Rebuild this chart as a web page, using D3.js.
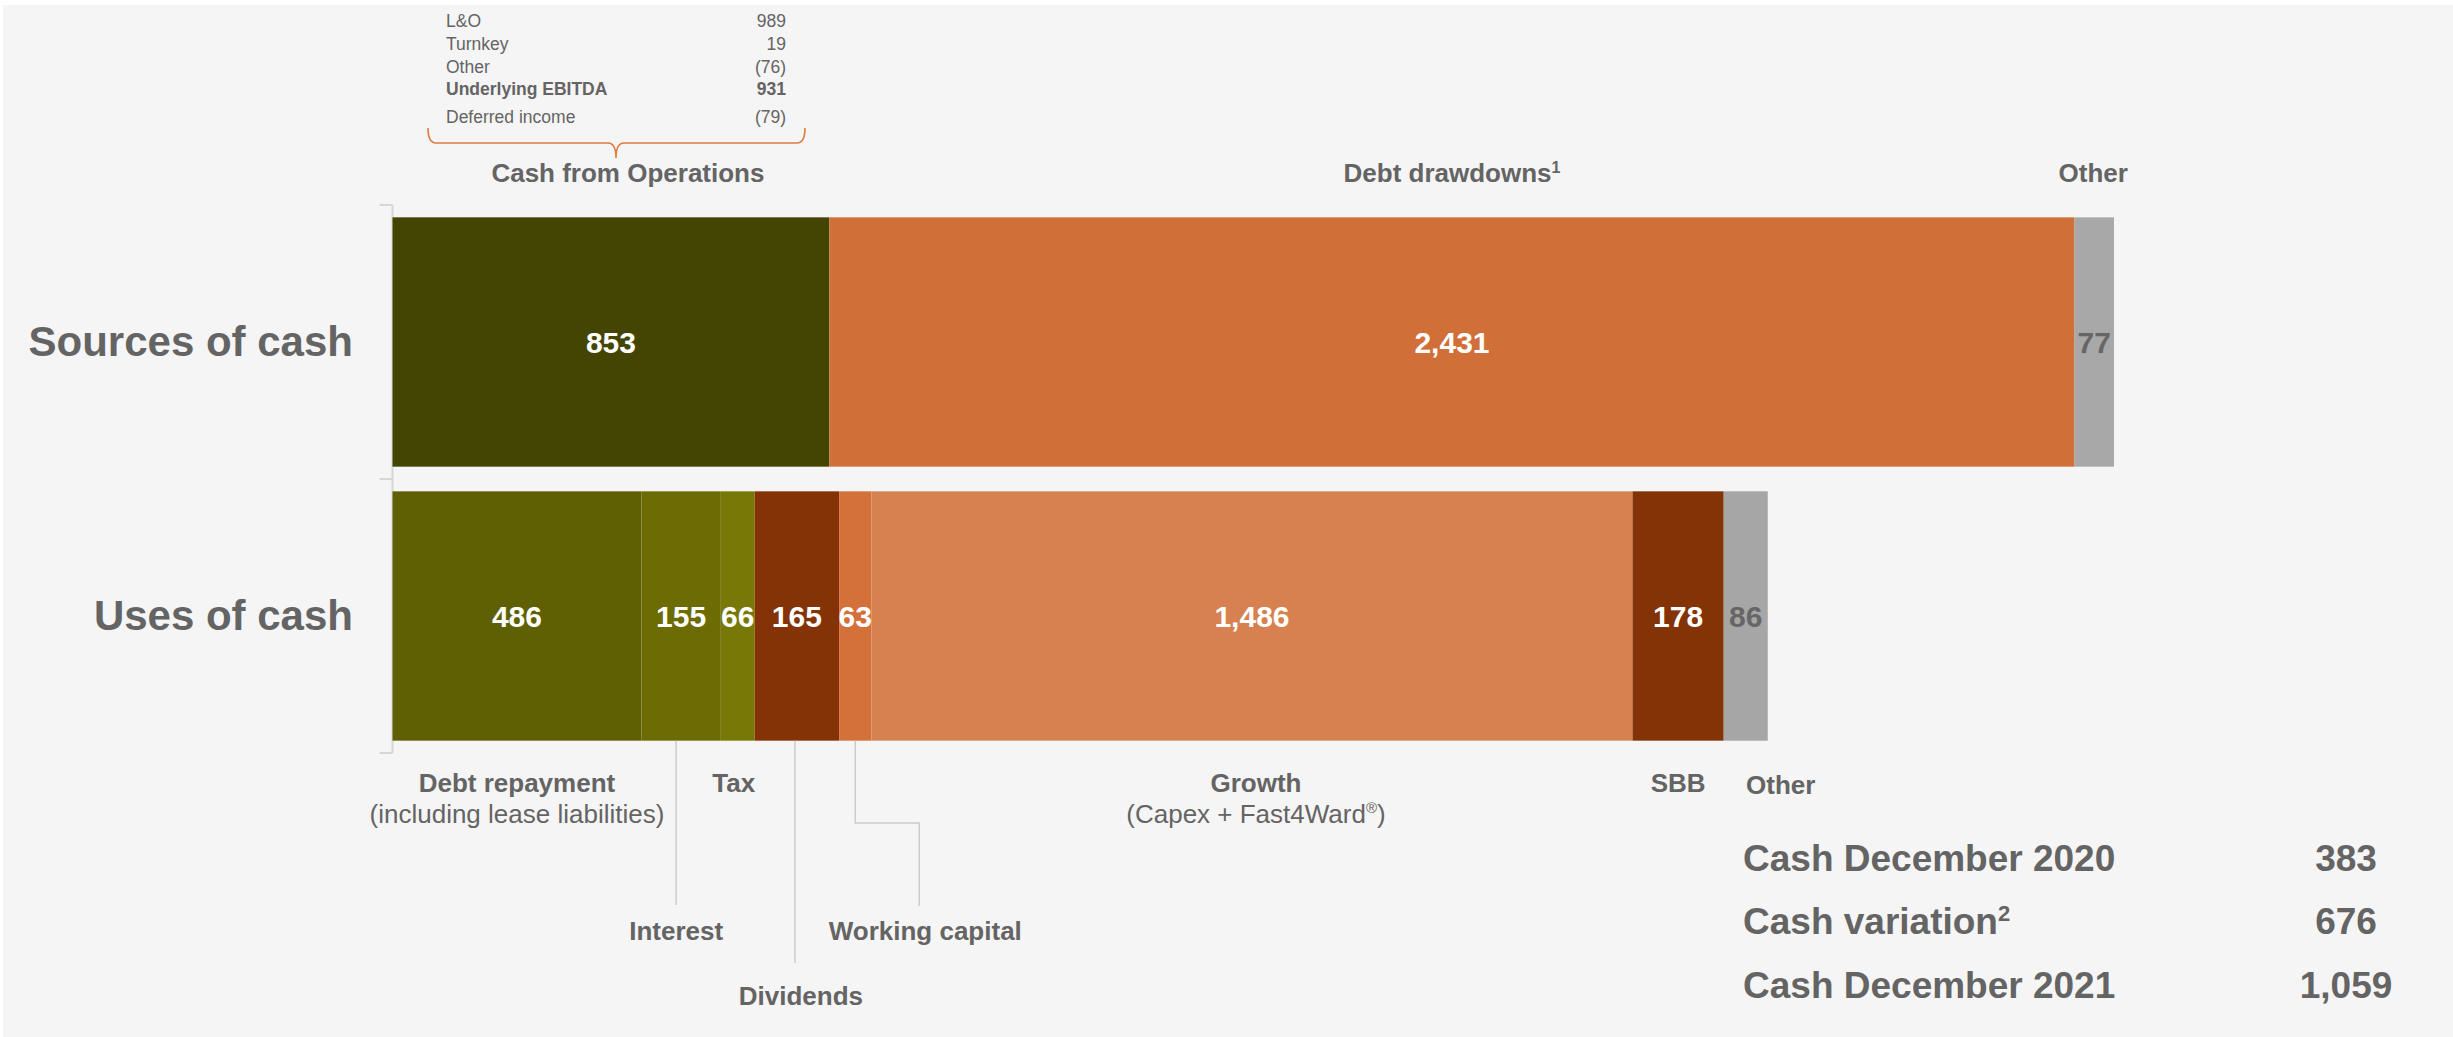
<!DOCTYPE html>
<html>
<head>
<meta charset="utf-8">
<script src="https://cdn.jsdelivr.net/npm/d3@7"></script>
<style>
  html, body { margin: 0; padding: 0; background: #ffffff; }
  svg { display: block; font-family: "Liberation Sans", Arial, Helvetica, sans-serif; }
</style>
</head>
<body>
<svg id="chart" width="2453" height="1037"></svg>
<script>
// ---------- data ----------
const categories = ["Sources of cash", "Uses of cash"];

const sourceLabels = ["Cash from Operations", "Debt drawdowns", "Other"];
const sourceValues = [853, 2431, 77];

const useLabels = ["Debt repayment", "Interest", "Tax", "Dividends", "Working capital", "Growth", "SBB", "Other"];
const useValues = [486, 155, 66, 165, 63, 1486, 178, 86];

const ebitdaItems = ["L&O", "Turnkey", "Other", "Underlying EBITDA", "Deferred income"];
const ebitdaValues = ["989", "19", "(76)", "931", "(79)"];

const summaryLabels = ["Cash December 2020", "Cash variation", "Cash December 2021"];
const summaryValues = [383, 676, 1059];

// ---------- styles ----------
const sourceColors = ["#454503", "#d16f38", "#a8a8a8"];
const useColors = ["#5f5f03", "#6d6b04", "#787806", "#843306", "#d4703a", "#d78150", "#843306", "#a6a6a6"];
const grayText = "#646464";
const fmt = d3.format(",");

const svg = d3.select("#chart");
svg.append("rect").attr("x", 3).attr("y", 5).attr("width", 2453).attr("height", 1037).attr("fill", "#f5f5f5");

// ---------- scales ----------
const x = d3.scaleLinear().domain([0, d3.sum(sourceValues)]).range([392.5, 2114]);
const y = d3.scaleBand().domain(categories).range([205, 753]).paddingInner(0.09).paddingOuter(0.045);

function stack(vals) {
  let acc = 0;
  return vals.map(v => { const s = acc; acc += v; return { x0: s, x1: acc, v }; });
}
const srcStack = stack(sourceValues);
const useStack = stack(useValues);

// ---------- axis (band boundaries) ----------
const axisX = x(0);
const step = y.step();
const y0 = y.range()[0];
const axisG = svg.append("g");
axisG.append("line").attr("x1", axisX).attr("x2", axisX).attr("y1", y0).attr("y2", y0 + step * categories.length)
  .attr("stroke", "#d6d6d6").attr("stroke-width", 2);
d3.range(categories.length + 1).forEach(i => {
  axisG.append("line").attr("x1", axisX - 13).attr("x2", axisX).attr("y1", y0 + i * step).attr("y2", y0 + i * step)
    .attr("stroke", "#d6d6d6").attr("stroke-width", 2);
});

// category labels
svg.append("g").selectAll("text").data(categories).join("text")
  .attr("x", 353).attr("y", d => y(d) + y.bandwidth() / 2 + 14)
  .attr("text-anchor", "end").attr("font-size", 42).attr("font-weight", "bold").attr("fill", grayText)
  .text(d => d);

// ---------- bars ----------
function drawBars(stk, colors, cat) {
  const g = svg.append("g");
  g.selectAll("rect").data(stk).join("rect")
    .attr("x", d => x(d.x0)).attr("width", d => x(d.x1) - x(d.x0))
    .attr("y", y(cat)).attr("height", y.bandwidth())
    .attr("fill", (d, i) => colors[i]);
  g.selectAll("text").data(stk).join("text")
    .attr("x", d => (x(d.x0) + x(d.x1)) / 2)
    .attr("y", y(cat) + y.bandwidth() / 2 + 11)
    .attr("text-anchor", "middle").attr("font-size", 30).attr("font-weight", "bold")
    .attr("fill", (d, i) => colors[i] === "#a6a6a6" || colors[i] === "#a8a8a8" ? "#666666" : "#ffffff")
    .text(d => fmt(d.v));
}
drawBars(srcStack, sourceColors, categories[0]);
drawBars(useStack, useColors, categories[1]);

const cx = (s) => (x(s.x0) + x(s.x1)) / 2;

// ---------- source labels above ----------
const topG = svg.append("g").attr("font-size", 26).attr("font-weight", "bold").attr("fill", grayText).attr("text-anchor", "middle");
const topOffsets = [17, 0, -1];
const topSup = ["", "1", ""];
sourceLabels.forEach((lab, i) => {
  const t = topG.append("text").attr("x", cx(srcStack[i]) + topOffsets[i]).attr("y", 182);
  t.append("tspan").text(lab);
  if (topSup[i]) t.append("tspan").attr("font-size", 16).attr("dy", -9).text(topSup[i]);
});

// ---------- EBITDA breakdown ----------
const ebG = svg.append("g").attr("font-size", 17.5).attr("fill", grayText);
const ebY = [27, 50, 72.5, 95, 123];
ebitdaItems.forEach((lab, i) => {
  const bold = lab === "Underlying EBITDA";
  ebG.append("text").attr("x", 446).attr("y", ebY[i]).attr("font-weight", bold ? "bold" : "normal").text(lab);
  ebG.append("text").attr("x", 786).attr("y", ebY[i]).attr("text-anchor", "end").attr("font-weight", bold ? "bold" : "normal").text(ebitdaValues[i]);
});
// brace
svg.append("path")
  .attr("d", "M428,128 Q428,143 436,143 L608,143 Q616,143 616,158 Q616,143 624,143 L797,143 Q805,143 805,128")
  .attr("fill", "none").attr("stroke", "#e07a3e").attr("stroke-width", 1.6);

// ---------- use labels below ----------
const barBottom = y(categories[1]) + y.bandwidth();
const lineColor = "#cccccc";
const botG = svg.append("g").attr("fill", grayText).attr("text-anchor", "middle");
function boldLabel(xp, yp, txt) {
  return botG.append("text").attr("x", xp).attr("y", yp).attr("font-size", 26).attr("font-weight", "bold").text(txt);
}
function subLabel(xp, yp) {
  return botG.append("text").attr("x", xp).attr("y", yp).attr("font-size", 26).attr("font-weight", "normal");
}
function leader(points) {
  svg.append("path").attr("d", d3.line()(points)).attr("fill", "none").attr("stroke", lineColor).attr("stroke-width", 1.5);
}

// Debt repayment
boldLabel(cx(useStack[0]), 792, useLabels[0]);
subLabel(cx(useStack[0]), 823).text("(including lease liabilities)");
// Interest
const intX = cx(useStack[1]) - 5;
leader([[intX, barBottom], [intX, 905]]);
boldLabel(intX, 940, useLabels[1]);
// Tax
boldLabel(cx(useStack[2]) - 4, 792, useLabels[2]);
// Dividends
const divX = cx(useStack[3]) - 2;
leader([[divX, barBottom], [divX, 963]]);
boldLabel(divX + 6, 1005, useLabels[3]);
// Working capital
const wcX = cx(useStack[4]);
leader([[wcX, barBottom], [wcX, 823], [wcX + 64, 823], [wcX + 64, 906]]);
boldLabel(wcX + 70, 940, useLabels[4]);
// Growth
boldLabel(cx(useStack[5]) + 4, 792, useLabels[5]);
const gs = subLabel(cx(useStack[5]) + 4, 823);
gs.append("tspan").text("(Capex + Fast4Ward");
gs.append("tspan").attr("font-size", 15).attr("dy", -10).text("®");
gs.append("tspan").attr("dy", 10).text(")");
// SBB
boldLabel(cx(useStack[6]), 792, useLabels[6]);
// Other
boldLabel(cx(useStack[7]) + 35, 794, useLabels[7]);

// ---------- summary ----------
const sumG = svg.append("g").attr("font-size", 37).attr("font-weight", "bold").attr("fill", grayText);
const sumY = [871, 934, 998];
summaryLabels.forEach((lab, i) => {
  const t = sumG.append("text").attr("x", 1743).attr("y", sumY[i]);
  t.append("tspan").text(lab);
  if (lab === "Cash variation") t.append("tspan").attr("font-size", 22).attr("dy", -13).text("2");
  sumG.append("text").attr("x", 2346).attr("y", sumY[i]).attr("text-anchor", "middle").text(fmt(summaryValues[i]));
});
</script>
</body>
</html>
